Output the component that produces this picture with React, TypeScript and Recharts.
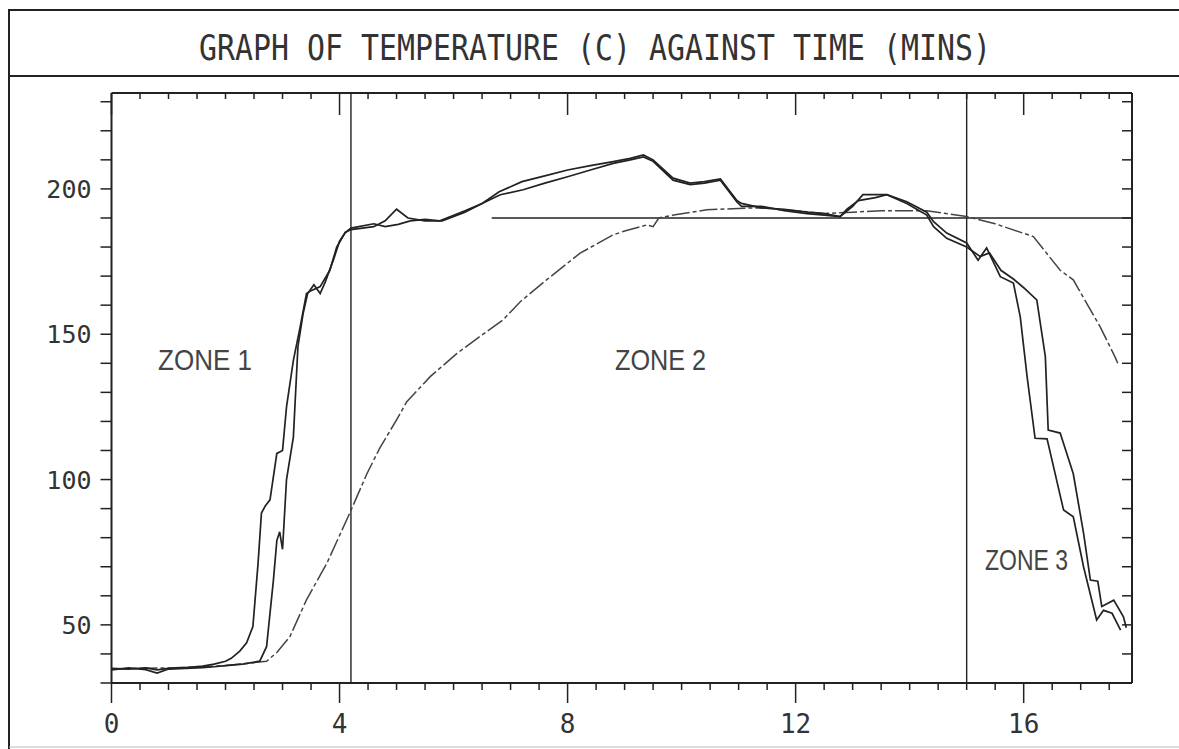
import React from "react";
import { LineChart, Line, XAxis, YAxis, ReferenceLine } from "recharts";

// time (mins) / temperature (C) readings
const timesA = [0, 0.3, 0.6, 0.8, 1.0, 1.3, 1.6, 1.8, 2.0, 2.1, 2.25, 2.37, 2.48, 2.57, 2.63, 2.7, 2.78, 2.9, 2.95, 3.0, 3.07, 3.19, 3.31, 3.42, 3.5, 3.66, 3.83, 3.95, 4.1, 4.2, 4.6, 4.8, 5.0, 5.2, 5.5, 5.8, 6.2, 6.5, 6.8, 7.2, 7.6, 8.0, 8.4, 8.8, 9.1, 9.33, 9.5, 9.85, 10.15, 10.4, 10.68, 10.97, 11.05, 11.4, 11.8, 12.2, 12.5, 12.78, 13.0, 13.18, 13.6, 13.95, 14.3, 14.42, 14.65, 15.0, 15.2, 15.35, 15.59, 15.82, 15.94, 16.06, 16.2, 16.41, 16.7, 16.87, 17.05, 17.28, 17.4, 17.55, 17.7];
const tempsA = [35, 34.8, 35.2, 34.5, 35, 35.3, 35.8, 36.5, 37.5, 38.5, 41, 43.8, 49.4, 71, 88.5, 91, 93, 109, 109.5, 110, 125, 141, 152.6, 164, 165, 166.4, 172, 180, 185, 186, 187, 189, 193, 190, 189, 189, 192, 195, 199, 202.5, 204.5, 206.5, 208, 209.4, 210.5, 211.7, 210, 203.7, 202, 202.5, 203.4, 196, 195, 193.5, 193, 192, 191.5, 190.5, 194, 198, 198, 195.6, 192, 188.7, 184.8, 181.4, 175.5, 179.7, 169.8, 167.6, 156, 135.4, 114.2, 114, 89.5, 87.2, 70, 51.7, 55, 54, 48.2];

const timesB = [0, 0.3, 0.6, 0.8, 1.0, 1.3, 1.6, 1.8, 2.0, 2.3, 2.6, 2.72, 2.84, 2.9, 2.95, 3.0, 3.07, 3.19, 3.27, 3.36, 3.44, 3.55, 3.66, 3.75, 3.9, 4.0, 4.1, 4.2, 4.6, 4.8, 5.03, 5.24, 5.5, 5.76, 6.2, 6.5, 6.82, 7.22, 7.6, 8.0, 8.4, 8.8, 9.1, 9.33, 9.5, 9.85, 10.15, 10.4, 10.68, 10.97, 11.05, 11.4, 11.8, 12.2, 12.5, 12.78, 12.9, 13.1, 13.4, 13.6, 13.95, 14.3, 14.42, 14.65, 15.0, 15.24, 15.4, 15.6, 15.82, 16.0, 16.23, 16.38, 16.43, 16.64, 16.87, 17.05, 17.17, 17.3, 17.37, 17.58, 17.75, 17.8];
const tempsB = [34.5, 35.2, 34.6, 33.4, 34.8, 35, 35.3, 35.6, 36, 36.5, 37.5, 42.5, 65.4, 79, 82, 76, 100, 114.6, 145.7, 157, 164, 167, 164, 168, 176, 182, 185, 186.5, 188, 187, 187.8, 189, 189.5, 189, 192.5, 195, 198, 199.7, 202, 204.2, 206.5, 208.8, 210, 211, 209.5, 203, 201.5, 202, 203, 195.5, 194, 194, 192.5, 191.5, 191, 190.5, 193, 196, 197, 198, 195, 191, 187, 183, 180, 176.7, 178, 172, 169, 166, 161.8, 142.3, 117, 116, 102, 81.6, 65.4, 65, 56.3, 58.5, 52.8, 49];

const timesC = [0, 0.5, 1.0, 1.5, 2.0, 2.4, 2.72, 2.9, 3.13, 3.42, 3.78, 4.18, 4.48, 4.71, 5.0, 5.18, 5.59, 6.06, 6.46, 6.87, 7.17, 7.63, 8.22, 8.8, 9.0, 9.39, 9.5, 9.6, 9.86, 10.44, 11.0, 11.38, 12.0, 12.5, 13.0, 13.5, 14.3, 15.0, 15.5, 16.17, 16.64, 16.87, 17.34, 17.6, 17.65];
const tempsC = [34.8, 35, 35.2, 35.5, 36, 36.8, 37.5, 40.5, 46, 58.6, 71.3, 88.5, 102, 111, 120.5, 126.8, 135.4, 143.4, 149.2, 155, 161.2, 168.7, 177.9, 184.2, 185.5, 187.6, 187, 190, 191, 192.8, 193.3, 193.5, 192.5, 191.5, 192, 192.5, 192.5, 190.5, 188, 183.6, 172, 168.7, 152.6, 142.3, 140];

const xTicks = [0, 0.5, 1, 1.5, 2, 2.5, 3, 3.5, 4, 4.5, 5, 5.5, 6, 6.5, 7, 7.5, 8, 8.5, 9, 9.5, 10, 10.5, 11, 11.5, 12, 12.5, 13, 13.5, 14, 14.5, 15, 15.5, 16, 16.5, 17, 17.5];
const xLabels = [0, 4, 8, 12, 16];
const yTicks = [30, 40, 50, 60, 70, 80, 90, 100, 110, 120, 130, 140, 150, 160, 170, 180, 190, 200, 210, 220, 230];
const yLabels = [50, 100, 150, 200];

const zoneLines = [4.2, 15];
const setPoint = 190;
const setPointStart = 6.67;

const toRows = (ts: number[], vs: number[]) => ts.map((t, i) => ({ t, v: vs[i] }));
const seriesA = toRows(timesA, tempsA);
const seriesB = toRows(timesB, tempsB);
const seriesC = toRows(timesC, tempsC);

const INK = "#222";
const MONO = "'DejaVu Sans Mono', monospace";
const SANS = "'Liberation Sans', Arial, sans-serif";

const BottomTick = ({ x, y, payload }: any) => {
  const major = xLabels.includes(payload.value);
  return (
    <g>
      <line x1={x} x2={x} y1={y} y2={y + (major ? 20 : 7)} stroke={INK} strokeWidth={1.5} />
      {major && (
        <text x={x} y={y + 50} textAnchor="middle" fontFamily={MONO} fontSize={26} fill="#333">
          {payload.value}
        </text>
      )}
    </g>
  );
};

const TopTick = ({ x, y, payload }: any) => {
  const major = xLabels.includes(payload.value);
  return <line x1={x} x2={x} y1={y} y2={y + (major ? 22 : 6)} stroke={INK} strokeWidth={1.5} />;
};

const LeftTick = ({ x, y, payload }: any) => {
  const labelled = yLabels.includes(payload.value);
  return (
    <g>
      <line x1={x - 11} x2={x} y1={y} y2={y} stroke={INK} strokeWidth={1.5} />
      {labelled && (
        <text x={x - 20} y={y + 9} textAnchor="end" fontFamily={MONO} fontSize={25} fill="#333">
          {payload.value}
        </text>
      )}
    </g>
  );
};

const RightTick = ({ x, y }: any) => (
  <line x1={x - 10} x2={x} y1={y} y2={y} stroke={INK} strokeWidth={1.5} />
);

export default function App() {
  return (
    <div style={{ position: "absolute", left: 0, top: 0, width: 1179, height: 749, background: "#fff" }}>
      <LineChart
        width={1179}
        height={749}
        margin={{ top: 83, right: 37, bottom: 26, left: 51.5 }}
      >
        <XAxis
          xAxisId="b"
          dataKey="t"
          type="number"
          domain={[0, 17.9]}
          allowDataOverflow
          ticks={xTicks}
          interval={0}
          tickSize={0}
          tickMargin={0}
          tick={<BottomTick />}
          height={40}
          axisLine={{ stroke: INK, strokeWidth: 2 }}
        />
        <XAxis
          xAxisId="t"
          orientation="top"
          dataKey="t"
          type="number"
          domain={[0, 17.9]}
          allowDataOverflow
          ticks={xTicks}
          interval={0}
          tickSize={0}
          tickMargin={0}
          tick={<TopTick />}
          height={10}
          axisLine={{ stroke: INK, strokeWidth: 2 }}
        />
        <YAxis
          yAxisId="l"
          type="number"
          domain={[30, 233]}
          allowDataOverflow
          ticks={yTicks}
          interval={0}
          tickSize={0}
          tickMargin={0}
          tick={<LeftTick />}
          width={60}
          axisLine={{ stroke: INK, strokeWidth: 2 }}
        />
        <YAxis
          yAxisId="r"
          orientation="right"
          type="number"
          domain={[30, 233]}
          allowDataOverflow
          ticks={yTicks}
          interval={0}
          tickSize={0}
          tickMargin={0}
          tick={<RightTick />}
          width={10}
          axisLine={{ stroke: INK, strokeWidth: 2 }}
        />

        {zoneLines.map((z) => (
          <ReferenceLine key={z} xAxisId="b" yAxisId="l" x={z} stroke={INK} strokeWidth={1.4} />
        ))}
        <ReferenceLine
          xAxisId="b"
          yAxisId="l"
          segment={[{ x: setPointStart, y: setPoint }, { x: 17.9, y: setPoint }]}
          stroke={INK}
          strokeWidth={1.6}
        />

        <Line
          xAxisId="b"
          yAxisId="l"
          data={seriesC}
          dataKey="v"
          type="linear"
          stroke="#444"
          strokeWidth={1.5}
          strokeDasharray="18 3 4 3"
          dot={false}
          isAnimationActive={false}
        />
        <Line
          xAxisId="b"
          yAxisId="l"
          data={seriesB}
          dataKey="v"
          type="linear"
          stroke={INK}
          strokeWidth={1.7}
          dot={false}
          isAnimationActive={false}
        />
        <Line
          xAxisId="b"
          yAxisId="l"
          data={seriesA}
          dataKey="v"
          type="linear"
          stroke={INK}
          strokeWidth={1.7}
          dot={false}
          isAnimationActive={false}
        />
      </LineChart>

      {/* frame, title and zone labels */}
      <svg
        width={1179}
        height={749}
        style={{ position: "absolute", left: 0, top: 0, pointerEvents: "none" }}
      >
        <line x1={8} x2={1179} y1={10} y2={10} stroke={INK} strokeWidth={2} />
        <line x1={9} x2={9} y1={10} y2={749} stroke={INK} strokeWidth={2} />
        <line x1={9} x2={1179} y1={76} y2={76} stroke={INK} strokeWidth={2} />
        <line x1={9} x2={1179} y1={747} y2={747} stroke="#bbb" strokeWidth={1} />
        <text
          x={199}
          y={60}
          fontFamily={MONO}
          fontSize={36}
          fill="#333"
          textLength={792}
          lengthAdjust="spacingAndGlyphs"
        >
          GRAPH OF TEMPERATURE (C) AGAINST TIME (MINS)
        </text>
        <text x={158} y={370} fontFamily={SANS} fontSize={30} fill="#444" textLength={94} lengthAdjust="spacingAndGlyphs">
          ZONE 1
        </text>
        <text x={615} y={370} fontFamily={SANS} fontSize={30} fill="#444" textLength={91} lengthAdjust="spacingAndGlyphs">
          ZONE 2
        </text>
        <text x={985} y={570} fontFamily={SANS} fontSize={30} fill="#444" textLength={83} lengthAdjust="spacingAndGlyphs">
          ZONE 3
        </text>
      </svg>
    </div>
  );
}
